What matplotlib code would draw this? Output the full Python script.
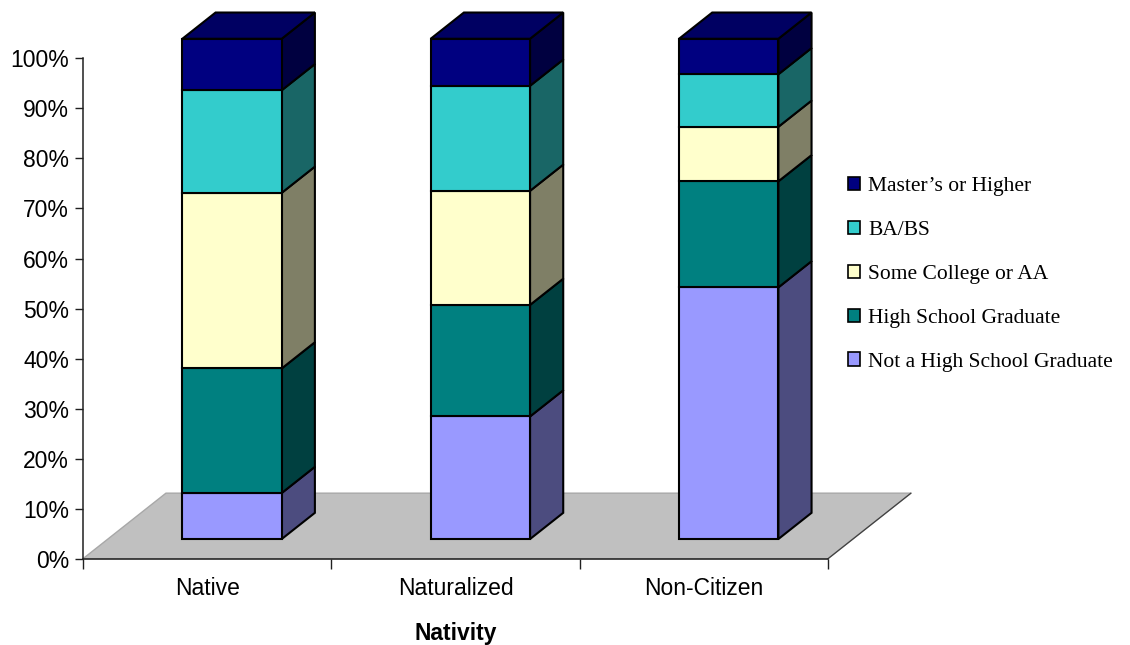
import matplotlib
matplotlib.use('Agg')
import matplotlib.pyplot as plt
from matplotlib.patches import Polygon, Patch
import numpy as np

# Share of adults by education level within each nativity group (%)
categories = ['Native', 'Naturalized', 'Non-Citizen']
levels = ['Not a High School Graduate', 'High School Graduate',
          'Some College or AA', 'BA/BS', 'Master\u2019s or Higher']
not_hs = [9.2, 24.5, 50.3]
hs_grad = [24.9, 22.3, 21.2]
some_college = [35.1, 22.8, 10.9]
ba_bs = [20.5, 21.0, 10.5]
masters = [10.3, 9.4, 7.1]

front_colors = ['#9999FF', '#008080', '#FFFFCC', '#33CCCC', '#000080']
side_colors = ['#4C4C7F', '#004040', '#7F7F66', '#196666', '#000040']
top_color = '#000062'

# fake 3d geometry (in data units)
FLOOR_DX = 0.334   # categories
FLOOR_DY = 13.1    # percent
BAR_W = 0.4
D0, D1 = 0.3, 0.7  # front / back of bar as fraction of floor depth


def draw_bar(ax, c, shares):
  fx, fy = D0 * FLOOR_DX, D0 * FLOOR_DY
  bx, by = D1 * FLOOR_DX, D1 * FLOOR_DY
  x0, x1 = c - BAR_W / 2, c + BAR_W / 2
  bottoms = np.concatenate([[0], np.cumsum(shares)[:-1]])
  tops = np.cumsum(shares)
  for k, (y0, y1) in enumerate(zip(bottoms, tops)):
    side = [(x1 + fx, y0 + fy), (x1 + bx, y0 + by),
            (x1 + bx, y1 + by), (x1 + fx, y1 + fy)]
    front = [(x0 + fx, y0 + fy), (x1 + fx, y0 + fy),
             (x1 + fx, y1 + fy), (x0 + fx, y1 + fy)]
    for pts, col in ((side, side_colors[k]), (front, front_colors[k])):
      ax.add_patch(Polygon(pts, closed=True, facecolor=col, edgecolor='black',
                           linewidth=1.5, joinstyle='miter', clip_on=False, zorder=3))
  y1 = tops[-1]
  top = [(x0 + fx, y1 + fy), (x1 + fx, y1 + fy),
         (x1 + bx, y1 + by), (x0 + bx, y1 + by)]
  ax.add_patch(Polygon(top, closed=True, facecolor=top_color, edgecolor='black',
                       linewidth=1.5, joinstyle='miter', clip_on=False, zorder=3))


fig = plt.figure(figsize=(11.3, 6.45), dpi=100)
ax = fig.add_axes([83 / 1130, 86.3 / 645, 745 / 1130, 500.3 / 645])
ax.set_xlim(-0.5, len(categories) - 0.5)
ax.set_ylim(0, 100)

# floor
n = len(categories)
floor = [(-0.5, 0), (n - 0.5, 0), (n - 0.5 + FLOOR_DX, FLOOR_DY), (-0.5 + FLOOR_DX, FLOOR_DY)]
ax.add_patch(Polygon(floor, closed=True, facecolor='#C0C0C0', edgecolor='#A8A8A8',
                     linewidth=1.0, clip_on=False, zorder=1))
ax.plot([n - 0.5, n - 0.5 + FLOOR_DX], [0, FLOOR_DY], color='#404040',
        linewidth=0.9, clip_on=False, zorder=1.5)

data = np.array([not_hs, hs_grad, some_college, ba_bs, masters])
data = data / data.sum(axis=0) * 100
for i in range(n):
  draw_bar(ax, i, data[:, i])

for s in ['top', 'right']:
  ax.spines[s].set_visible(False)
for s in ['left', 'bottom']:
  ax.spines[s].set_color('#202020')
  ax.spines[s].set_linewidth(1.1)

ax.set_yticks(np.arange(0, 101, 10))
ax.set_yticklabels([f'{v}%' for v in range(0, 101, 10)],
                   fontsize=16.5, family='Liberation Sans')
ax.tick_params(axis='y', length=6, width=1, color='#202020', pad=4)

ax.set_xticks(np.arange(-0.5, n, 1.0))
ax.set_xticklabels([])
ax.set_xticks(np.arange(n), minor=True)
ax.set_xticklabels(categories, minor=True, fontsize=16.5, family='Liberation Sans')
ax.tick_params(axis='x', which='major', length=7, width=1, color='#202020')
ax.tick_params(axis='x', which='minor', length=0, pad=13)
ax.set_xlabel('Nativity', fontsize=16.5, fontweight='bold',
              family='Liberation Sans', labelpad=16)

handles = [Patch(facecolor=front_colors[k], edgecolor='black', linewidth=1.2)
           for k in range(len(levels))][::-1]
fig.legend(handles, levels[::-1], loc='upper left',
           bbox_to_anchor=(848 / 1130, 1 - 177 / 645), frameon=False,
           prop={'family': 'Liberation Serif', 'size': 15.5},
           handlelength=0.58, handleheight=0.58, handletextpad=0.35,
           labelspacing=1.14, borderpad=0, borderaxespad=0)

fig.savefig('out.png', dpi=100)
